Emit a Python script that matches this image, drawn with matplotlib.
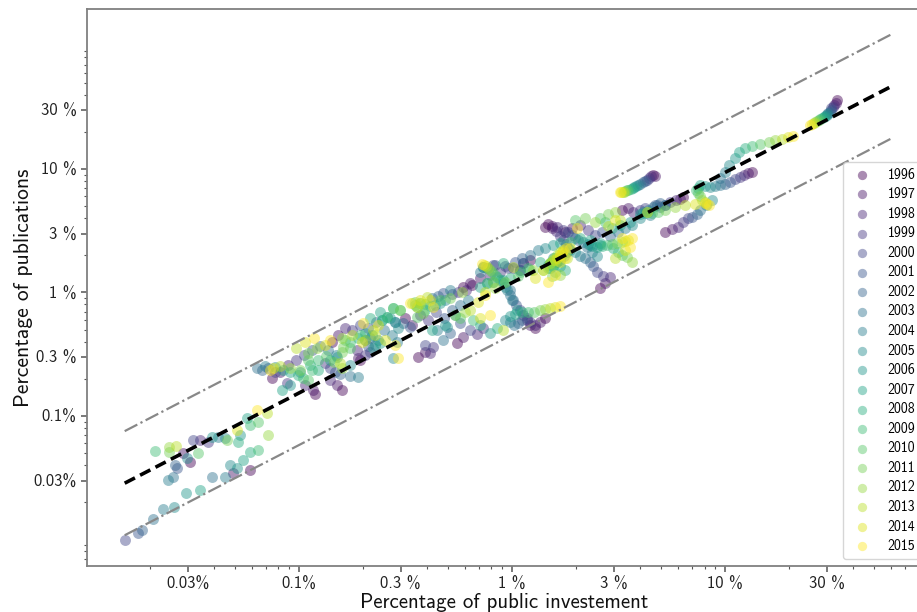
import numpy as np
import matplotlib
matplotlib.use("Agg")
import matplotlib.pyplot as plt
from matplotlib.ticker import FixedLocator, LogLocator, NullFormatter

# ---------------- data (percentages) ----------------
year_list = list(range(1996, 2016))

us_x = [33.5, 33, 32.5, 32, 31.5, 31.5, 31, 30.5, 30, 30, 29.5, 29, 28.5, 28, 27.5, 27, 26.5, 26, 25.5, 25]
us_y = [36, 34.5, 33, 32, 31, 30, 29, 28.5, 28, 27.5, 27, 26.5, 26, 25.5, 25, 24.5, 24, 23.5, 23, 22.5]

cn_years = list(range(2003, 2016))
cn_x = [9.47, 10.0, 10.4, 11.1, 11.6, 12.4, 13.4, 14.6, 16.0, 17.2, 18.5, 19.7, 20.8]
cn_y = [8.44, 9.45, 10.7, 12.3, 13.8, 14.8, 15.4, 15.9, 16.5, 17.2, 17.5, 18.1, 18.6]

jp_x = [13.4, 12.8, 12.3, 11.8, 11.1, 10.5, 10.0, 9.47, 8.97, 8.5, 8.07, 7.63, 7.46, 7.3, 7.46, 7.63, 7.8, 8.07, 8.25, 8.4]
jp_y = [9.45, 9.27, 8.94, 8.6, 8.3, 7.84, 7.5, 7.4, 7.27, 7.13, 7.27, 7.4, 7.0, 6.77, 6.4, 6.0, 5.62, 5.4, 5.25, 5.1]

de_x = [4.6, 4.7, 4.5, 4.4, 4.3, 4.2, 4.1, 4.0, 3.9, 3.8, 3.75, 3.7, 3.6, 3.5, 3.45, 3.4, 3.35, 3.3, 3.25, 3.2]
de_y = [9.0, 8.8, 8.7, 8.5, 8.2, 8.0, 7.8, 7.6, 7.4, 7.3, 7.1, 7.0, 6.9, 6.8, 6.7, 6.6, 6.55, 6.5, 6.5, 6.45]

c05_years = list(range(1996, 2006))
c05_x = [5.23, 5.63, 6.0, 6.35, 6.7, 7.0, 7.37, 7.63, 8.17, 8.7]
c05_y = [3.09, 3.26, 3.39, 3.72, 4.0, 4.08, 4.32, 4.66, 5.11, 5.62]

c06_x = [6.35, 6.14, 5.88, 5.51, 5.23, 4.95, 4.79, 4.59, 4.35, 4.12, 3.99, 4.2, 4.35, 4.54, 4.84, 5.23, 5.8, 6.5, 7.2, 8.07]
c06_y = [5.94, 5.72, 5.62, 5.41, 5.11, 4.92, 5.11, 4.92, 4.66, 4.49, 4.32, 4.41, 4.49, 4.41, 4.49, 4.66, 4.92, 5.11, 5.2, 5.3]

c07_x = [1.43, 1.54, 1.63, 1.74, 1.83, 1.91, 1.98, 2.04, 2.15, 2.27, 2.37, 2.5, 2.64, 2.79, 2.94, 3.11, 3.28, 3.39, 3.5, 3.65]
c07_y = [3.39, 3.46, 3.39, 3.21, 3.09, 2.92, 2.76, 2.66, 2.56, 2.47, 2.38, 2.33, 2.38, 2.42, 2.47, 2.52, 2.56, 2.61, 2.66, 2.76]

c08_x = [2.59, 2.73, 2.88, 2.67, 2.5, 2.4, 2.32, 2.2, 2.09, 1.98, 1.87, 1.79, 1.72, 1.64, 1.59, 1.54, 1.51, 1.56, 1.63, 1.68]
c08_y = [1.09, 1.19, 1.34, 1.36, 1.47, 1.64, 1.77, 1.9, 1.98, 2.13, 2.21, 2.13, 2.01, 1.9, 1.77, 1.67, 1.73, 1.83, 1.9, 2.01]

c09_x = [1.48, 1.54, 1.61, 1.68, 1.74, 1.79, 1.83, 1.81, 1.76, 1.68, 1.61, 1.56, 1.51, 1.48, 1.52, 1.57, 1.63, 1.68, 1.74, 1.79]
c09_y = [3.59, 3.33, 3.15, 2.87, 2.66, 2.47, 2.29, 2.13, 1.98, 1.83, 1.77, 1.64, 1.58, 1.67, 1.77, 1.9, 2.01, 2.13, 2.21, 2.29]

c10_x = [1.28, 1.21, 1.18, 1.13, 1.09, 1.04, 1.01, 0.979, 0.947, 0.927, 0.907, 0.879, 0.85, 0.832, 0.806, 0.789, 0.772, 0.755, 0.739, 0.723]
c10_y = [0.516, 0.546, 0.599, 0.657, 0.722, 0.792, 0.87, 0.954, 1.05, 1.1, 1.19, 1.26, 1.34, 1.39, 1.47, 1.52, 1.58, 1.64, 1.67, 1.7]

c11_x = [1.43, 1.35, 1.28, 1.21, 1.18, 1.11, 1.07, 1.02, 0.979, 0.927, 0.979, 1.03, 1.11, 1.19, 1.27, 1.35, 1.43, 1.51, 1.59, 1.68]
c11_y = [0.62, 0.58, 0.546, 0.58, 0.62, 0.599, 0.57, 0.546, 0.58, 0.599, 0.645, 0.67, 0.7, 0.69, 0.7, 0.722, 0.735, 0.75, 0.765, 0.78]

c12_x = [1.21, 1.13, 1.09, 1.01, 0.927, 0.832, 0.764, 0.731, 0.708, 0.764, 0.814, 0.907, 0.979, 1.09, 1.21, 1.40, 1.51, 1.59, 1.68, 1.77]
c12_y = [1.83, 1.73, 1.52, 1.58, 1.64, 1.67, 1.58, 1.61, 1.47, 1.19, 1.22, 1.26, 1.31, 1.47, 1.52, 1.52, 1.73, 1.83, 1.77, 1.9]

c13_x = [0.589, 0.635, 0.608, 0.558, 0.523, 0.474, 0.449, 0.421, 0.512, 0.485, 0.459, 0.435, 0.412, 0.391, 0.37, 0.35, 0.339, 0.4, 0.37, 0.332]
c13_y = [1.11, 1.19, 1.05, 1.01, 0.972, 0.991, 0.937, 0.903, 1.05, 0.87, 0.822, 0.792, 0.777, 0.807, 0.822, 0.838, 0.822, 0.92, 0.87, 0.822]

c14_x = [0.552, 0.589, 0.685, 0.731, 0.635, 0.57, 0.512, 0.474, 0.444, 0.495, 0.789, 0.708, 0.85, 0.656, 0.57, 0.54, 0.602, 0.907, 0.708, 0.789]
c14_y = [0.389, 0.44, 0.458, 0.516, 0.497, 0.57, 0.47, 0.413, 0.497, 0.526, 0.47, 0.546, 0.516, 0.599, 0.62, 0.657, 0.7, 0.497, 0.62, 0.657]

c15_x = [0.362, 0.391, 0.412, 0.426, 0.391, 0.332, 0.308, 0.283, 0.288, 0.277, 0.223, 0.24, 0.245, 0.259, 0.277, 0.298, 0.358, 0.223, 0.235, 0.292]
c15_y = [0.3, 0.33, 0.325, 0.362, 0.376, 0.526, 0.57, 0.58, 0.397, 0.295, 0.355, 0.389, 0.599, 0.633, 0.75, 0.722, 0.765, 0.497, 0.546, 0.295]

c16_x = [0.193, 0.19, 0.188, 0.204, 0.216, 0.211, 0.204, 0.216, 0.228, 0.235, 0.219, 0.204, 0.19, 0.174, 0.165, 0.161, 0.159, 0.177, 0.198, 0.2]
c16_y = [0.284, 0.295, 0.342, 0.312, 0.33, 0.367, 0.413, 0.43, 0.376, 0.413, 0.453, 0.47, 0.43, 0.397, 0.413, 0.362, 0.43, 0.453, 0.397, 0.57]

c17_x = [0.119, 0.116, 0.107, 0.088, 0.0774, 0.0716, 0.067, 0.0636, 0.0693, 0.0774, 0.0841, 0.0908, 0.099, 0.104, 0.11, 0.101, 0.0908, 0.0815, 0.0757, 0.0731]
c17_y = [0.151, 0.162, 0.178, 0.185, 0.227, 0.245, 0.236, 0.245, 0.254, 0.249, 0.236, 0.227, 0.215, 0.204, 0.196, 0.236, 0.245, 0.254, 0.245, 0.236]

c18_x = [0.159, 0.151, 0.14, 0.133, 0.14, 0.148, 0.156, 0.174, 0.19, 0.174, 0.151, 0.14, 0.123, 0.115, 0.11, 0.11, 0.122, 0.156, 0.133, 0.14]
c18_y = [0.162, 0.178, 0.196, 0.268, 0.245, 0.227, 0.219, 0.211, 0.207, 0.258, 0.3, 0.284, 0.236, 0.236, 0.284, 0.325, 0.355, 0.268, 0.376, 0.413]

c19_years = list(range(2004, 2016))
c19_x = [0.0417, 0.045, 0.0528, 0.0569, 0.0517, 0.0589, 0.0642, 0.046, 0.0716, 0.0708, 0.0512, 0.0636]
c19_y = [0.0675, 0.0663, 0.07, 0.0963, 0.0615, 0.0845, 0.0894, 0.0639, 0.07, 0.106, 0.077, 0.112]

c20_years = list(range(1996, 2007))
c20_x = [0.0307, 0.0285, 0.0342, 0.0372, 0.0317, 0.0267, 0.0261, 0.0256, 0.0243, 0.0297, 0.0391]
c20_y = [0.0426, 0.05, 0.0639, 0.0615, 0.0639, 0.0379, 0.0401, 0.0321, 0.0303, 0.0456, 0.0675]

c21_years = list(range(2009, 2014))
c21_x = [0.0211, 0.0335, 0.0245, 0.0245, 0.0264]
c21_y = [0.0521, 0.05, 0.0511, 0.0557, 0.0568]

c22_years = [1996, 1997, 2003, 2004, 2005, 2006, 2007, 2008, 2009]
c22_x = [0.0589, 0.049, 0.0391, 0.045, 0.0476, 0.0512, 0.0546, 0.0589, 0.0642]
c22_y = [0.0365, 0.0345, 0.0321, 0.0321, 0.0401, 0.0379, 0.044, 0.0512, 0.0531]

c23_years = list(range(2000, 2008))
c23_x = [0.0152, 0.0176, 0.0183, 0.0206, 0.023, 0.0259, 0.0294, 0.0343]
c23_y = [0.0099, 0.0113, 0.0119, 0.0147, 0.0177, 0.0183, 0.0238, 0.0252]

c24_years = list(range(2005, 2016))
c24_x = [0.283, 0.259, 0.245, 0.277, 0.298, 0.358, 0.382, 0.358, 0.37, 0.412, 0.426]
c24_y = [0.58, 0.633, 0.599, 0.75, 0.722, 0.633, 0.685, 0.765, 0.822, 0.87, 0.765]

c26_years = list(range(2000, 2016))
c26_x = [0.814, 1.09, 1.13, 0.979, 1.0, 0.731, 1.06, 0.708, 0.907, 0.764, 1.51, 0.814, 1.25, 1.01, 1.4, 1.59]
c26_y = [1.67, 1.52, 1.73, 1.05, 0.87, 1.61, 0.722, 1.1, 1.73, 1.19, 1.73, 1.22, 1.52, 1.61, 1.52, 1.39]

c27_x = [3.28, 3.5, 3.69, 3.99, 4.2, 4.69, 4.95, 5.23, 4.44, 3.99, 3.58, 3.21, 2.94, 2.73, 2.59, 2.82, 3.04, 3.21, 4.31, 2.02]
c27_y = [4.66, 4.84, 4.49, 4.66, 4.84, 5.11, 5.3, 5.11, 4.24, 4.0, 3.72, 3.51, 3.33, 3.72, 4.0, 4.32, 4.49, 3.87, 4.49, 3.33]

c28_years = list(range(2003, 2016))
c28_x = [2.25, 2.37, 2.5, 2.32, 2.59, 2.97, 3.14, 3.28, 3.46, 3.65, 3.04, 3.39, 3.58]
c28_y = [2.33, 2.13, 1.98, 2.42, 2.52, 2.29, 2.13, 2.01, 1.94, 1.77, 1.9, 2.21, 2.33]

c29_years = list(range(2005, 2016))
c29_x = [1.56, 1.63, 1.68, 1.77, 1.59, 1.48, 1.54, 1.68, 1.81, 1.72, 1.87]
c29_y = [1.9, 1.77, 1.64, 1.52, 1.47, 1.58, 1.36, 1.39, 1.9, 2.13, 2.29]

c30_x = [0.315, 0.339, 0.37, 0.404, 0.44, 0.48, 0.523, 0.57, 0.622, 0.54, 0.485, 0.421, 0.391, 0.35, 0.459, 0.512, 0.582, 0.635, 0.693, 0.747]
c30_y = [0.62, 0.546, 0.657, 0.599, 0.7, 0.62, 0.722, 0.792, 0.87, 0.657, 0.546, 0.497, 0.722, 0.792, 0.87, 0.903, 1.01, 0.722, 0.838, 0.954]

c31_x = [0.143, 0.153, 0.165, 0.177, 0.193, 0.211, 0.23, 0.25, 0.273, 0.292, 0.268, 0.24, 0.216, 0.193, 0.174, 0.159, 0.204, 0.228, 0.253, 0.283]
c31_y = [0.397, 0.453, 0.516, 0.497, 0.546, 0.516, 0.58, 0.497, 0.453, 0.516, 0.62, 0.7, 0.62, 0.453, 0.355, 0.33, 0.413, 0.453, 0.413, 0.376]

c32_x = [0.649, 0.708, 0.789, 0.879, 0.957, 1.03, 1.11, 1.21, 1.32, 1.43, 1.56, 1.68, 1.35, 1.19, 1.07, 0.927, 0.832, 0.747, 1.28, 1.48]
c32_y = [1.15, 1.31, 1.39, 1.47, 1.58, 1.77, 1.9, 2.01, 2.21, 2.29, 2.42, 2.52, 1.77, 1.58, 1.36, 1.22, 1.09, 1.01, 1.31, 1.22]

c33_x = [1.77, 1.91, 2.09, 2.27, 2.45, 2.64, 2.88, 3.14, 3.39, 3.65, 2.59, 2.32, 2.09, 1.87, 1.98, 2.2, 2.45, 2.82, 3.04, 3.28]
c33_y = [3.09, 3.33, 3.51, 3.21, 2.92, 3.09, 2.87, 3.09, 3.33, 3.51, 2.42, 2.66, 2.76, 2.56, 3.87, 4.0, 3.72, 3.46, 3.87, 2.76]

c34_x = [0.0746, 0.0815, 0.0888, 0.0968, 0.106, 0.115, 0.125, 0.137, 0.149, 0.101, 0.0908, 0.0832, 0.113, 0.123, 0.134, 0.146, 0.159, 0.0968, 0.107, 0.118]
c34_y = [0.204, 0.227, 0.258, 0.284, 0.312, 0.342, 0.367, 0.342, 0.312, 0.227, 0.178, 0.162, 0.258, 0.284, 0.307, 0.275, 0.245, 0.355, 0.397, 0.43]

# power-law fit shown on the chart and its band
fit_coef = 1.2
fit_slope = 0.893
band_factor = 2.64
fit_x_range = [0.0152, 59.6]

x_ticks = [0.03, 0.1, 0.3, 1, 3, 10, 30]
x_tick_labels = ["0.03%", "0.1%", "0.3 %", "1 %", "3 %", "10 %", "30 %"]
y_ticks = [0.03, 0.1, 0.3, 1, 3, 10, 30]
y_tick_labels = ["0.03%", "0.1%", "0.3 %", "1 %", "3 %", "10 %", "30 %"]

# ---------------- assemble ----------------
series = [
    (year_list, us_x, us_y), (cn_years, cn_x, cn_y), (year_list, jp_x, jp_y),
    (year_list, de_x, de_y), (c05_years, c05_x, c05_y), (year_list, c06_x, c06_y),
    (year_list, c07_x, c07_y), (year_list, c08_x, c08_y), (year_list, c09_x, c09_y),
    (year_list, c10_x, c10_y), (year_list, c11_x, c11_y), (year_list, c12_x, c12_y),
    (year_list, c13_x, c13_y), (year_list, c14_x, c14_y), (year_list, c15_x, c15_y),
    (year_list, c16_x, c16_y), (year_list, c17_x, c17_y), (year_list, c18_x, c18_y),
    (c19_years, c19_x, c19_y), (c20_years, c20_x, c20_y), (c21_years, c21_x, c21_y),
    (c22_years, c22_x, c22_y), (c23_years, c23_x, c23_y), (c24_years, c24_x, c24_y),
    (c26_years, c26_x, c26_y), (year_list, c27_x, c27_y), (c28_years, c28_x, c28_y),
    (c29_years, c29_x, c29_y), (year_list, c30_x, c30_y), (year_list, c31_x, c31_y),
    (year_list, c32_x, c32_y), (year_list, c33_x, c33_y), (year_list, c34_x, c34_y),
]

plt.rcParams['font.family'] = ['cmss10', 'DejaVu Sans']
plt.rcParams['axes.unicode_minus'] = False

fig = plt.figure(figsize=(9.17, 6.12), dpi=100)
ax = fig.add_axes([87 / 917, 1 - 566 / 612, (921 - 87) / 917, (566 - 9) / 612])
ax.set_xscale('log')
ax.set_yscale('log')

cmap = plt.get_cmap('viridis')
n_years = len(year_list)
for i, yr in enumerate(year_list):
    xs, ys = [], []
    for yrs, sx, sy in series:
        for k, yy in enumerate(yrs):
            if yy == yr:
                xs.append(sx[k])
                ys.append(sy[k])
    ax.scatter(xs, ys, s=62, color=cmap(i / (n_years - 1)), alpha=0.45,
               linewidths=0, label=str(yr), zorder=2)

lx = np.array(fit_x_range)
fx = np.logspace(np.log10(lx[0]), np.log10(lx[1]), 50)
fy = fit_coef * fx ** fit_slope
ax.plot(fx, fy, color='black', linestyle=(0, (3.2, 1.6)), linewidth=2.6, zorder=3)
ax.plot(fx, fy * band_factor, color='#888888', linestyle='-.', linewidth=1.6, zorder=3)
ax.plot(fx, fy / band_factor, color='#888888', linestyle='-.', linewidth=1.6, zorder=3)

ax.set_xlim(10 ** -1.995, 10 ** 1.919)
ax.set_ylim(10 ** -2.215, 10 ** 2.2955)

ax.xaxis.set_major_locator(FixedLocator(x_ticks))
ax.set_xticklabels(x_tick_labels)
ax.yaxis.set_major_locator(FixedLocator(y_ticks))
ax.set_yticklabels(y_tick_labels)
for axis in (ax.xaxis, ax.yaxis):
    axis.set_minor_locator(LogLocator(base=10, subs=np.arange(2, 10), numticks=20))
    axis.set_minor_formatter(NullFormatter())

for sp in ax.spines.values():
    sp.set_color('#808080')
    sp.set_linewidth(1.3)
ax.tick_params(which='major', length=4, width=1.1, color='#555555', labelsize=12, labelcolor='#222222')
ax.tick_params(which='minor', length=2.5, width=0.8, color='#555555')

ax.set_xlabel('Percentage of public investement', fontsize=15, color='#111111', labelpad=1)
ax.set_ylabel('Percentage of publications', fontsize=15.5, color='#111111', labelpad=0)

leg = ax.legend(loc='upper left', bbox_to_anchor=(843 / 917, 1 - 162 / 612),
                bbox_transform=fig.transFigure, fontsize=10, labelspacing=0.4,
                markerscale=0.85, frameon=True, borderpad=0.4, handletextpad=0.8,
                borderaxespad=0.0)
leg.get_frame().set_edgecolor('#cccccc')

fig.savefig('out.png', dpi=100)
